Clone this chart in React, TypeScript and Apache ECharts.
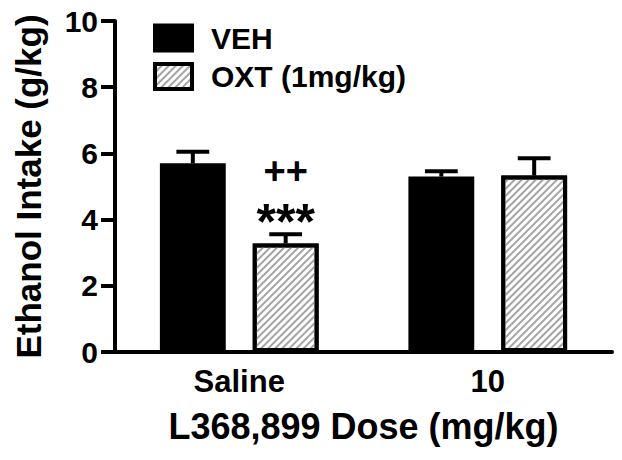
import React, { useEffect, useRef } from "react";
import * as echarts from "echarts";

const categories = ["Saline", "10"];
const seriesNames = ["VEH", "OXT (1mg/kg)"];
const vehMeans = [5.7, 5.3];
const vehSem = [0.35, 0.16];
const oxtMeans = [3.28, 5.33];
const oxtSem = [0.28, 0.52];
const starLabels = ["***", ""];
const plusLabels = ["++", ""];

const FONT = "'Liberation Sans', Arial, Helvetica, sans-serif";
const BAR_FRAC = 0.265;
const GAP_FRAC = 0.41;
const OFFSET = (BAR_FRAC + BAR_FRAC * GAP_FRAC) / 2;
const CAP_HALF = 0.066;

const HATCH = {
  symbol: "rect",
  symbolSize: 1,
  color: "#a4a4a4",
  dashArrayX: [1, 0],
  dashArrayY: [1.6, 2.8],
  rotation: -Math.PI / 4,
};

function errorSeries(means: number[], sems: number[], sign: number, stars?: string[], plus?: string[]) {
  return {
    type: "custom",
    z: 5,
    data: means.map((m, i) => [i, m, sems[i]]),
    encode: { x: 0, y: 1 },
    renderItem: (params: any, api: any) => {
      const i = api.value(0);
      const m = api.value(1);
      const e = api.value(2);
      const band = api.size([1, 0])[0];
      const base = api.coord([i, m]);
      const top = api.coord([i, m + e]);
      const x = base[0] + sign * band * OFFSET;
      const half = band * CAP_HALF;
      const children: any[] = [
        { type: "line", shape: { x1: x, y1: base[1], x2: x, y2: top[1] }, style: { stroke: "#000", lineWidth: 4 } },
        { type: "line", shape: { x1: x - half, y1: top[1], x2: x + half, y2: top[1] }, style: { stroke: "#000", lineWidth: 4 } },
      ];
      const idx = params.dataIndex;
      if (stars && stars[idx]) {
        children.push({
          type: "text",
          style: { x: x, y: top[1] - 12.5, text: stars[idx], fill: "#000", font: `bold 50px ${FONT}`, textAlign: "center", textVerticalAlign: "middle" },
        });
      }
      if (plus && plus[idx]) {
        children.push({
          type: "text",
          style: { x: x, y: top[1] - 63, text: plus[idx], fill: "#000", font: `bold 38px ${FONT}`, textAlign: "center", textVerticalAlign: "middle" },
        });
      }
      return { type: "group", children };
    },
  };
}

export default function App() {
  const ref = useRef<HTMLDivElement>(null);
  useEffect(() => {
    const chart = echarts.init(ref.current!, null, { renderer: "svg" });
    const axisText = { color: "#000", fontWeight: "bold", fontFamily: FONT };
    chart.setOption({
      animation: false,
      backgroundColor: "#fff",
      grid: { left: 115, right: 10, top: 21, bottom: 108, containLabel: false },
      legend: {
        orient: "vertical",
        left: 153,
        top: 23,
        padding: 0,
        itemWidth: 37,
        itemHeight: 25,
        itemGap: 8.5,
        itemStyle: { borderWidth: 4, borderColor: "#000" },
        data: [
          { name: seriesNames[0], icon: "rect" },
          { name: seriesNames[1], icon: "rect" },
        ],
        textStyle: { ...axisText, fontSize: 30, padding: [0, 0, 0, 14] },
      },
      xAxis: {
        type: "category",
        data: categories,
        name: "L368,899 Dose (mg/kg)",
        nameLocation: "middle",
        nameGap: 56,
        nameTextStyle: { ...axisText, fontSize: 36 },
        axisLine: { lineStyle: { color: "#000", width: 4 } },
        axisTick: { alignWithLabel: true, length: 14, lineStyle: { color: "#000", width: 4 } },
        axisLabel: { ...axisText, fontSize: 31, margin: 14 },
      },
      yAxis: {
        type: "value",
        min: 0,
        max: 10,
        interval: 2,
        name: "Ethanol Intake (g/kg)",
        nameLocation: "middle",
        nameGap: 69,
        nameTextStyle: { ...axisText, fontSize: 35 },
        axisLine: { show: true, lineStyle: { color: "#000", width: 4 } },
        axisTick: { show: true, length: 14, lineStyle: { color: "#000", width: 4 } },
        axisLabel: { ...axisText, fontSize: 30, margin: 17 },
        splitLine: { show: false },
      },
      series: [
        {
          type: "bar",
          name: seriesNames[0],
          data: vehMeans,
          barWidth: `${BAR_FRAC * 100}%`,
          barGap: `${GAP_FRAC * 100}%`,
          itemStyle: { color: "#000" },
        },
        {
          type: "bar",
          name: seriesNames[1],
          data: oxtMeans,
          barWidth: `${BAR_FRAC * 100}%`,
          barGap: `${GAP_FRAC * 100}%`,
          itemStyle: {
            color: "#fff",
            borderColor: "#000",
            borderWidth: 4,
            decal: HATCH,
          },
        },
        errorSeries(vehMeans, vehSem, -1),
        errorSeries(oxtMeans, oxtSem, 1, starLabels, plusLabels),
      ],
    });
    return () => chart.dispose();
  }, []);
  return <div ref={ref} style={{ position: "absolute", left: 0, top: 0, width: 622, height: 460 }} />;
}
